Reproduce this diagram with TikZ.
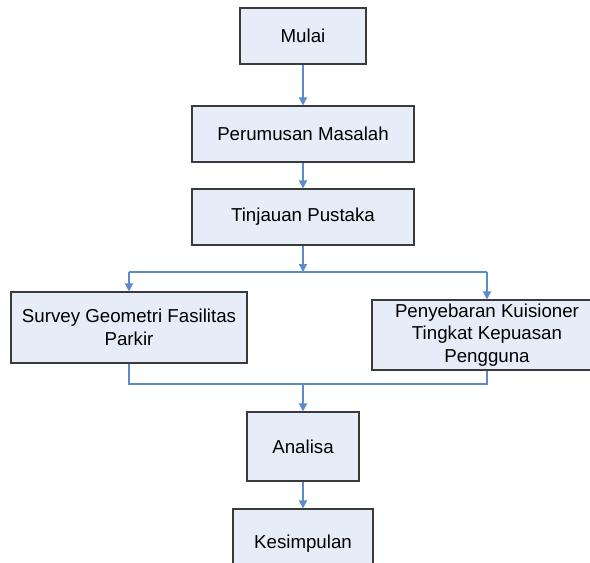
\documentclass[tikz,border=0pt]{standalone}
\usepackage{fontspec}
\setmainfont{Liberation Sans}
\usetikzlibrary{arrows.meta,positioning,calc}
\definecolor{boxfill}{HTML}{E6EDF8}
\definecolor{boxline}{HTML}{3A3A3A}
\definecolor{flowblue}{HTML}{5B8BCB}
\tikzset{every picture/.style={line cap=butt, line join=miter}}
\tikzset{box/.style={draw=boxline, fill=boxfill, rectangle, line width=1.1bp,
  align=center, inner sep=2bp, font=\fontsize{18.7bp}{22.5bp}\selectfont}}
\tikzset{arrow/.style={-{Triangle[length=8bp,width=8bp]}, draw=flowblue, line width=1.4bp}}
\tikzset{line/.style={draw=flowblue, line width=1.4bp}}

\begin{document}
\begin{tikzpicture}[x=1bp,y=-1bp]
  \useasboundingbox (0,0) rectangle (590,563);
  \clip (0,0) rectangle (590,563);

  % Mulai
  \node[box, minimum width=126bp, minimum height=56bp] (mulai) at (303,36) {Mulai};
  % Perumusan Masalah
  \node[box, minimum width=222bp, minimum height=56bp] (masalah) at (303,134) {Perumusan Masalah};
  % Tinjauan Pustaka
  \node[box, minimum width=222bp, minimum height=56bp] (pustaka) at (303,217) {Tinjauan Pustaka};

  % cabang
  \coordinate (split) at (303,272);
  \node[box, minimum width=236bp, minimum height=71bp] (survey) at (129,327.5)
    {Survey Geometri Fasilitas\\Parkir};
  \node[box, minimum width=230bp, minimum height=70bp] (kuisioner) at (487,335)
    {Penyebaran Kuisioner\\Tingkat Kepuasan\\Pengguna};
  \coordinate (join) at (303,384);

  % Analisa
  \node[box, minimum width=112bp, minimum height=69bp] (analisa) at (303,446.5) {Analisa};
  % Kesimpulan
  \node[box, minimum width=140bp, minimum height=69bp] (simpul) at (303,543.5) {Kesimpulan};

  \draw[arrow] (mulai) -- (masalah);
  \draw[arrow] (masalah) -- (pustaka);
  \draw[arrow] (pustaka) -- (split);
  \draw[line] (split -| survey) -- (split -| kuisioner);
  \draw[arrow] (split -| survey) -- (survey);
  \draw[arrow] (split -| kuisioner) -- (kuisioner);

  \draw[line] (survey.south) |- (join) -| (kuisioner.south);
  \draw[arrow] (join) -- (analisa);
  \draw[arrow] (analisa) -- (simpul);
\end{tikzpicture}
\end{document}
